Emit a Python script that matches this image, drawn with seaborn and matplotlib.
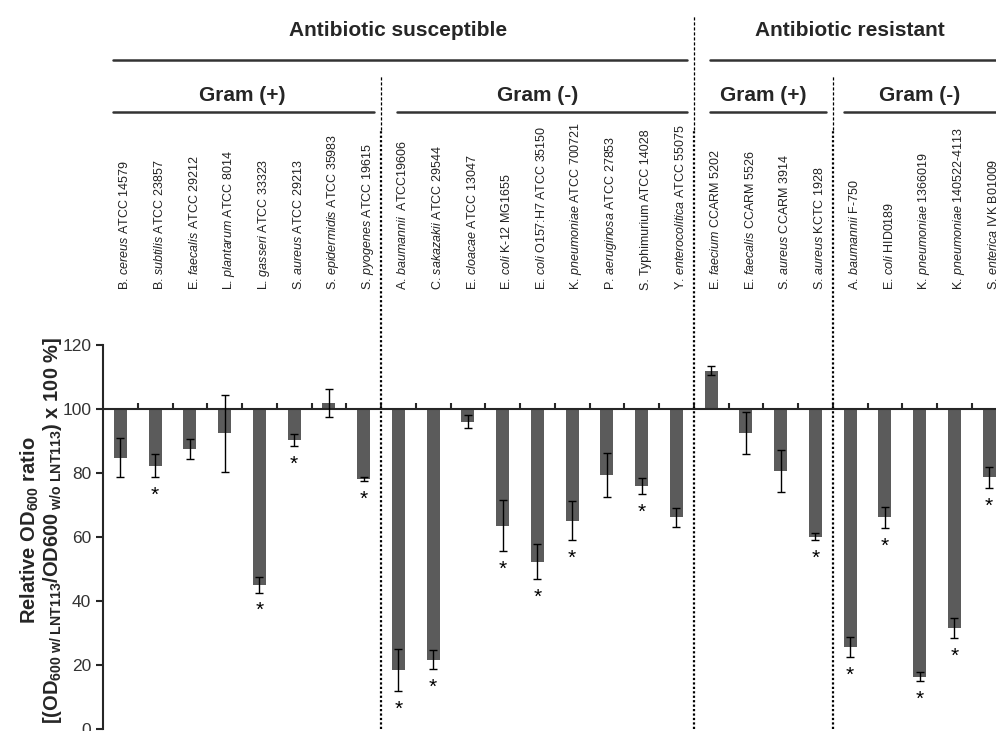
import numpy as np
import pandas as pd
import matplotlib
matplotlib.use("Agg")
import matplotlib.pyplot as plt
import seaborn as sns

# ---------------- data ----------------
genus = ["B.", "B.", "E.", "L.", "L.", "S.", "S.", "S.",
         "A.", "C.", "E.", "E.", "E.", "K.", "P.", "S.", "Y.",
         "E.", "E.", "S.", "S.",
         "A.", "E.", "K.", "K.", "S."]
species = ["cereus", "subtilis", "faecalis", "plantarum", "gasseri", "aureus", "epidermidis", "pyogenes",
           "baumannii", "sakazakii", "cloacae", "coli", "coli", "pneumoniae", "aeruginosa", "", "enterocolitica",
           "faecium", "faecalis", "aureus", "aureus",
           "baumannii", "coli", "pneumoniae", "pneumoniae", "enterica"]
strain = ["ATCC 14579", "ATCC 23857", "ATCC 29212", "ATCC 8014", "ATCC 33323", "ATCC 29213", "ATCC 35983", "ATCC 19615",
          " ATCC19606", "ATCC 29544", "ATCC 13047", "K-12 MG1655", "O157:H7 ATCC 35150", "ATCC 700721",
          "ATCC 27853", "Typhimurium ATCC 14028", "ATCC 55075",
          "CCARM 5202", "CCARM 5526", "CCARM 3914", "KCTC 1928",
          "F-750", "HID0189", "1366019", "140522-4113", "IVK B01009"]
values = [84.8, 82.2, 87.5, 92.4, 45.0, 90.3, 101.8, 78.0,
          18.4, 21.6, 96.0, 63.5, 52.3, 65.1, 79.4, 75.9, 66.1,
          112.0, 92.4, 80.7, 60.1,
          25.5, 66.1, 16.4, 31.5, 78.6]
errors = [6.0, 3.6, 3.0, 12.0, 2.4, 1.8, 4.3, 0.6,
          6.5, 3.0, 2.0, 8.0, 5.5, 6.1, 7.0, 2.4, 3.0,
          1.5, 6.6, 6.5, 1.0,
          3.1, 3.4, 1.5, 3.2, 3.2]
significant = [0, 1, 0, 0, 1, 1, 0, 1,
               1, 1, 0, 1, 1, 1, 0, 1, 0,
               0, 0, 0, 1,
               1, 1, 1, 1, 1]
top_groups = [("Antibiotic susceptible", 0, 16), ("Antibiotic resistant", 17, 25)]
sub_groups = [("Gram (+)", 0, 7), ("Gram (-)", 8, 16), ("Gram (+)", 17, 20), ("Gram (-)", 21, 25)]
yticks = [0, 20, 40, 60, 80, 100, 120]
baseline = 100

# ---------------- style ----------------
sns.set_style("ticks")
plt.rcParams["font.family"] = ["Liberation Sans", "DejaVu Sans"]
plt.rcParams["mathtext.fontset"] = "custom"
plt.rcParams["mathtext.rm"] = "Liberation Sans"
plt.rcParams["mathtext.it"] = "Liberation Sans:italic"
plt.rcParams["mathtext.bf"] = "Liberation Sans:bold"

names = [f"{g} {s} {st}" for g, s, st in zip(genus, species, strain)]
df = pd.DataFrame({"name": names, "value": values, "err": errors})
df["delta"] = df["value"] - baseline

fig = plt.figure(figsize=(9.96, 7.31), dpi=100)
ax = fig.add_axes([103 / 996, 2 / 731, 903.5 / 996, 384 / 731])

sns.barplot(data=df, x="name", y="delta", order=names, color="#5b5b5b", saturation=1,
            width=0.38, bottom=baseline, errorbar=None, ax=ax, linewidth=0)

n = len(names)
pos = np.arange(n)
ax.errorbar(pos, df["value"], yerr=df["err"], fmt="none", ecolor="black",
            elinewidth=1.0, capsize=3, capthick=1.0, zorder=3)

for i in range(n):
    if significant[i]:
        ax.annotate("*", (i, values[i] - errors[i]), xytext=(0, -17), textcoords="offset points",
                    ha="center", va="baseline", fontsize=15, color="black")

ax.set_xlim(-0.5, n - 0.5)
ax.set_ylim(0, 120)
ax.set_yticks(yticks)
ax.set_xlabel("")
ax.set_ylabel("")

for s in ["top", "right"]:
    ax.spines[s].set_visible(False)
ax.spines["left"].set_linewidth(1.5)
ax.spines["bottom"].set_position(("data", baseline))
ax.spines["bottom"].set_linewidth(1.5)
ax.set_xticks(pos[:-1] + 0.5)
ax.set_xticklabels([])
ax.tick_params(axis="x", direction="in", length=4, width=1.5)
ax.tick_params(axis="y", direction="out", length=5, width=1.5, labelsize=12.5, labelcolor="#333333")

xt = ax.get_xaxis_transform()

# rotated strain labels
for i in range(n):
    if species[i]:
        lab = f"{genus[i]} $\\mathit{{{species[i]}}}$ {strain[i]}"
    else:
        lab = f"{genus[i]} {strain[i]}"
    ax.text(i + 0.12, 1.143, lab, transform=xt, rotation=90, ha="center", va="bottom",
            fontsize=9.0, color="#222222")

# dividers
for start_next in [8, 17, 21]:
    xd = start_next - 0.5
    ytop = 1.86 if start_next == 17 else 1.70
    ax.plot([xd, xd], [0, 1.56], transform=xt, clip_on=False, color="black",
            lw=1.6, ls=(0, (1, 1)))
    ax.plot([xd, xd], [1.56, ytop], transform=xt, clip_on=False, color="black",
            lw=0.9, ls=(0, (2.5, 1.5)))

# group headers
for txt, a, b in top_groups:
    padl = 0.3 if a == 0 else 0.47
    ax.plot([a - 0.5 + padl, b + 0.5 - 0.2], [1.742, 1.742], transform=xt, clip_on=False,
            color="#333333", lw=1.8)
    ax.text((a + b) / 2, 1.82, txt, transform=xt, ha="center", va="center",
            fontsize=15, fontweight="bold")
for txt, a, b in sub_groups:
    padl = 0.3 if a == 0 else (0.47 if a in (8, 17) else 0.32)
    ax.plot([a - 0.5 + padl, b + 0.5 - 0.2], [1.607, 1.607], transform=xt, clip_on=False,
            color="#333333", lw=1.8)
    ax.text((a + b) / 2, 1.651, txt, transform=xt, ha="center", va="center",
            fontsize=15, fontweight="bold")

# y label (two lines)
fig.text(30 / 996, 0.275, r"$\mathbf{Relative\ OD_{600}\ ratio}$", rotation=90,
         ha="center", va="center", fontsize=14.5)
fig.text(53 / 996, 0.275, r"$\mathbf{[(OD_{600\ w/\ LNT113}/OD600_{\ w/o\ LNT113})\ x\ 100\ \%]}$",
         rotation=90, ha="center", va="center", fontsize=14.5)

fig.savefig("out.png", dpi=100)
